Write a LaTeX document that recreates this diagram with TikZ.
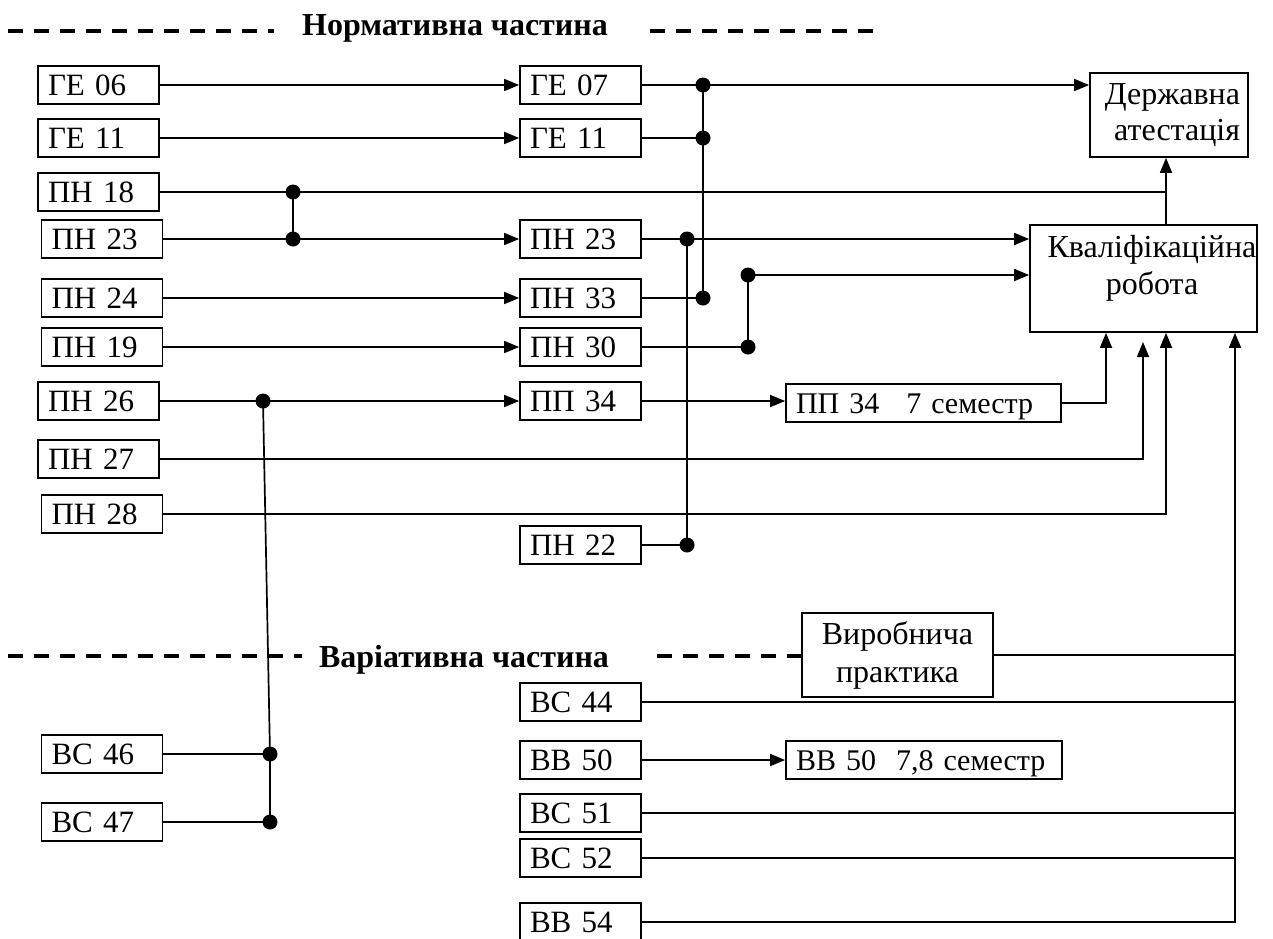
\documentclass[tikz,border=0pt]{standalone}
\usepackage{fontspec}
\setmainfont{Liberation Serif}
\usetikzlibrary{arrows.meta,calc}
\tikzset{
  bx/.style={draw, line width=1.7pt, rectangle, inner xsep=10pt, inner ysep=0pt,
    minimum height=38pt, text width=#1, align=left, text height=20.5pt, text depth=0pt,
    font=\fontsize{31}{37}\selectfont},
  bx/.default=101pt,
  bigbox/.style={draw, line width=1.7pt, rectangle, inner sep=0pt,
    font=\fontsize{32}{37}\selectfont},
  ln/.style={line width=1.7pt},
  arr/.style={line width=1.7pt, -{Triangle[length=15pt,width=12pt]}},
  jdot/.style={fill=black},
  sep/.style={line width=3.5pt, dash pattern=on 15pt off 11pt},
  head/.style={font=\fontsize{32}{36}\selectfont\bfseries, inner sep=0pt, anchor=base},
}
\begin{document}
\begin{tikzpicture}[x=1pt,y=-1pt]
\useasboundingbox (0,0) rectangle (1273,938);

% headers
\node[head] (h1) at (455,35) {Нормативна частина};
\coordinate (s1a) at (8,31); \coordinate (s1b) at (274,31);
\coordinate (s1c) at (650,31); \coordinate (s1d) at (884,31);
\draw[sep] (s1a) -- (s1b);
\draw[sep] (s1c) -- (s1d);

% left column
\node[bx] (ge06) at (98.5,85) {ГЕ 06};
\node[bx] (ge11a) at (98.5,138) {ГЕ 11};
\node[bx] (pn18) at (98.5,192) {ПН 18};
\node[bx] (pn23a) at (102,239) {ПН 23};
\node[bx] (pn24) at (102,298) {ПН 24};
\node[bx] (pn19) at (102,347) {ПН 19};
\node[bx] (pn26) at (98.5,401) {ПН 26};
\node[bx] (pn27) at (98.5,459) {ПН 27};
\node[bx] (pn28) at (102,514) {ПН 28};
\node[bx] (vs46) at (102,754) {ВС 46};
\node[bx] (vs47) at (102,822) {ВС 47};

% middle column
\node[bx] (ge07) at (580.5,85) {ГЕ 07};
\node[bx] (ge11b) at (580.5,138) {ГЕ 11};
\node[bx] (pn23b) at (580.5,239) {ПН 23};
\node[bx] (pn33) at (580.5,298) {ПН 33};
\node[bx] (pn30) at (580.5,347) {ПН 30};
\node[bx] (pp34) at (580.5,401) {ПП 34};
\node[bx] (pn22) at (580.5,545) {ПН 22};
\node[bx] (vs44) at (580.5,702) {ВС 44};
\node[bx] (vb50) at (580.5,760) {ВВ 50};
\node[bx] (vs51) at (580.5,813) {ВС 51};
\node[bx] (vs52) at (580.5,858) {ВС 52};
\node[bx] (vb54) at (580.5,922) {ВВ 54};

% right boxes
\node[bx=255pt, font=\fontsize{30}{37}\selectfont] (pp34s) at (923.5,403) {ПП 34\hspace{0.9em}7~семестр};
\node[bx=256pt, font=\fontsize{30}{37}\selectfont] (vb50s) at (924,760) {ВВ 50~~7,8~семестр};
\node[bigbox, minimum width=158pt, minimum height=84pt, align=right, text width=142pt, inner xsep=8pt, font=\fontsize{32}{36}\selectfont] (derzh) at (1169,115) {Державна\\атестація};
\node[bigbox, minimum width=227pt, minimum height=107pt] (kval) at (1143.5,278.5) {};
\node[font=\fontsize{32}{37}\selectfont, align=center, inner sep=0pt, anchor=north] (kvaltxt) at (1152,235) {Кваліфікаційна\\робота};
\node[bigbox, minimum width=191pt, minimum height=84pt, align=center, font=\fontsize{32}{38}\selectfont] (vyrob) at (897.5,655) {Виробнича\\практика};

% bottom header
\node[head] (h2) at (464,667) {Варіативна частина};
\coordinate (s2a) at (8,656); \coordinate (s2b) at (302,656);
\coordinate (s2c) at (657,656);
\draw[sep] (s2a) -- (s2b);
\draw[sep] (s2c) -- (vyrob.west |- s2c);

% junction coordinates
\coordinate (dA) at (703,85);
\coordinate (dB) at (703,138);
\coordinate (dC) at (703,298);
\coordinate (d18) at (293,192);
\coordinate (d23) at (293,239);
\coordinate (dP23) at (687,239);
\coordinate (dP22) at (687,545);
\coordinate (d30) at (748,347);
\coordinate (dK) at (748,275);
\coordinate (d26) at (263,401);
\coordinate (d46) at (270,754);
\coordinate (d47) at (270,822);
\coordinate (x18) at (1166,0);
\coordinate (x34) at (1106,0);
\coordinate (c27) at (1143,342);
\coordinate (x28) at (1166,0);
\coordinate (xbus) at (1235,0);

% connectors, top part
\draw[arr] (ge06.east) -- (ge07.west);
\draw[arr] (ge11a.east) -- (ge11b.west);
\draw[arr] (ge07.east) -- (derzh.west |- ge07.east);
\draw[ln] (ge11b.east) -- (dB);
\draw[ln] (pn33.east) -- (dC);
\draw[ln] (dA) -- (dC);
\draw[ln] (pn18.east) -- (x18 |- pn18.east);
\draw[arr] (x18 |- kval.north) -- (x18 |- derzh.south);
\draw[arr] (pn23a.east) -- (pn23b.west);
\draw[ln] (d18) -- (d23);
\draw[arr] (pn23b.east) -- (kval.west |- pn23b.east);
\draw[ln] (dP23) -- (dP22);
\draw[ln] (pn22.east) -- (dP22);
\draw[arr] (pn24.east) -- (pn33.west);
\draw[arr] (pn19.east) -- (pn30.west);
\draw[ln] (pn30.east) -- (d30) -- (dK);
\draw[arr] (dK) -- (kval.west |- dK);
\draw[arr] (pn26.east) -- (pp34.west);
\draw[ln] (d26) -- (d46) -- (d47);
\draw[ln] (vs46.east) -- (d46);
\draw[ln] (vs47.east) -- (d47);
\draw[arr] (pp34.east) -- (pp34s.west |- pp34.east);
\draw[arr] (pp34s.east) -| (x34 |- kval.south);
\draw[arr] (pn27.east) -| (c27);
\draw[arr] (pn28.east) -| (x28 |- kval.south);

% bottom bus
\draw[ln] (vyrob.east) -- (xbus |- vyrob.east);
\draw[ln] (vs44.east) -- (xbus |- vs44.east);
\draw[ln] (vs51.east) -- (xbus |- vs51.east);
\draw[ln] (vs52.east) -- (xbus |- vs52.east);
\draw[arr] (vb54.east) -| (xbus |- kval.south);
\draw[arr] (vb50.east) -- (vb50s.west);

% dots
\foreach \d in {dA,dB,dC,d18,d23,dP23,dP22,d30,dK,d26,d46,d47}
  \fill[jdot] (\d) circle (7.5pt);
\end{tikzpicture}
\end{document}
